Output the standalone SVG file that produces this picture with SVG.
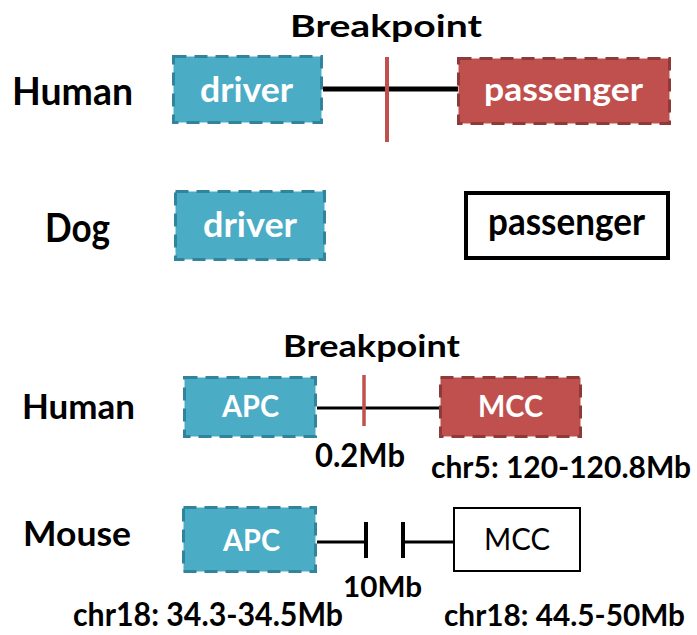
<svg xmlns="http://www.w3.org/2000/svg" width="697" height="635" viewBox="0 0 697 635">
<style>
  text { font-family: Lato, "Open Sans", "Liberation Sans", sans-serif; }
  .lbl { font-weight: bold; fill: #000; }
  .wt { fill: #fff; font-weight: bold; }
  .bt { fill: #000; font-weight: bold; }
  .teal { fill: #4BACC6; stroke: #31849B; stroke-width: 3; stroke-dasharray: 13 8; }
  .red { fill: #C0504D; stroke: #8E3A38; stroke-width: 3; stroke-dasharray: 13 8; }
  .plain { fill: #fff; stroke: #000; }
  .blk { stroke: #000; fill: none; }
  .brk { stroke: #C0504D; fill: none; }
</style>

<!-- Top section -->
<text id="bp1" class="lbl" x="290" y="37" font-size="30" textLength="192" lengthAdjust="spacingAndGlyphs">Breakpoint</text>
<text id="lbl-human1" class="lbl" x="12" y="105" font-size="38" textLength="121" lengthAdjust="spacingAndGlyphs">Human</text>
<text id="lbl-dog" class="lbl" x="45" y="242" font-size="40" textLength="65" lengthAdjust="spacingAndGlyphs">Dog</text>

<g id="connectors">
  <line class="blk" x1="323" y1="89" x2="458" y2="89" stroke-width="5"/>
  <line class="brk" x1="387" y1="57" x2="387" y2="142" stroke-width="4"/>
  <line class="blk" x1="317" y1="408" x2="440" y2="408" stroke-width="3"/>
  <line class="brk" x1="364" y1="375" x2="364" y2="426" stroke-width="3.5"/>
  <line class="blk" x1="317" y1="542" x2="366" y2="542" stroke-width="3"/>
  <line class="blk" x1="366" y1="522" x2="366" y2="558" stroke-width="4"/>
  <line class="blk" x1="403" y1="522" x2="403" y2="558" stroke-width="4"/>
  <line class="blk" x1="403" y1="542" x2="454" y2="542" stroke-width="3"/>
</g>

<g id="human-driver">
  <rect class="teal" x="173.5" y="56.5" width="148" height="66"/>
  <text class="wt" x="200" y="102" font-size="34" textLength="93" lengthAdjust="spacingAndGlyphs">driver</text>
</g>
<g id="human-passenger">
  <rect class="red" x="458.5" y="58.5" width="211" height="65"/>
  <text class="wt" x="484" y="101" font-size="33" textLength="159" lengthAdjust="spacingAndGlyphs">passenger</text>
</g>
<g id="dog-driver">
  <rect class="teal" x="175.5" y="191.5" width="149" height="68"/>
  <text class="wt" x="203" y="237" font-size="34" textLength="94" lengthAdjust="spacingAndGlyphs">driver</text>
</g>
<g id="dog-passenger">
  <rect class="plain" x="466" y="193" width="202" height="65" stroke-width="4"/>
  <text class="bt" x="488" y="235" font-size="39" textLength="157" lengthAdjust="spacingAndGlyphs">passenger</text>
</g>

<!-- Bottom section -->
<text id="bp2" class="lbl" x="283" y="357" font-size="30" textLength="177" lengthAdjust="spacingAndGlyphs">Breakpoint</text>
<text id="lbl-human2" class="lbl" x="22" y="419" font-size="35" textLength="113" lengthAdjust="spacingAndGlyphs">Human</text>
<text id="lbl-mouse" class="lbl" x="23" y="546" font-size="34" textLength="108" lengthAdjust="spacingAndGlyphs">Mouse</text>

<g id="human-apc">
  <rect class="teal" x="184.5" y="377.5" width="131" height="59"/>
  <text class="wt" x="222" y="417" font-size="30" textLength="57" lengthAdjust="spacingAndGlyphs">APC</text>
</g>
<g id="human-mcc">
  <rect class="red" x="440.5" y="377.5" width="140" height="59"/>
  <text class="wt" x="478" y="417" font-size="30" textLength="65" lengthAdjust="spacingAndGlyphs">MCC</text>
</g>
<text id="dist-human" class="lbl" x="315" y="467" font-size="32" textLength="90" lengthAdjust="spacingAndGlyphs">0.2Mb</text>
<text id="loc-mcc-human" class="lbl" x="431" y="478" font-size="30" textLength="260" lengthAdjust="spacingAndGlyphs">chr5: 120-120.8Mb</text>

<g id="mouse-apc">
  <rect class="teal" x="183.5" y="507.5" width="132" height="64"/>
  <text class="wt" x="223" y="551" font-size="30" textLength="57" lengthAdjust="spacingAndGlyphs">APC</text>
</g>
<g id="mouse-mcc">
  <rect class="plain" x="454" y="508" width="126" height="63" stroke-width="2"/>
  <text x="484" y="550" font-size="30" fill="#000" textLength="66" lengthAdjust="spacingAndGlyphs">MCC</text>
</g>
<text id="dist-mouse" class="lbl" x="343" y="597" font-size="29" textLength="79" lengthAdjust="spacingAndGlyphs">10Mb</text>
<text id="loc-apc-mouse" class="lbl" x="73" y="626" font-size="32" textLength="270" lengthAdjust="spacingAndGlyphs">chr18: 34.3-34.5Mb</text>
<text id="loc-mcc-mouse" class="lbl" x="444" y="626" font-size="31" textLength="241" lengthAdjust="spacingAndGlyphs">chr18: 44.5-50Mb</text>
</svg>
